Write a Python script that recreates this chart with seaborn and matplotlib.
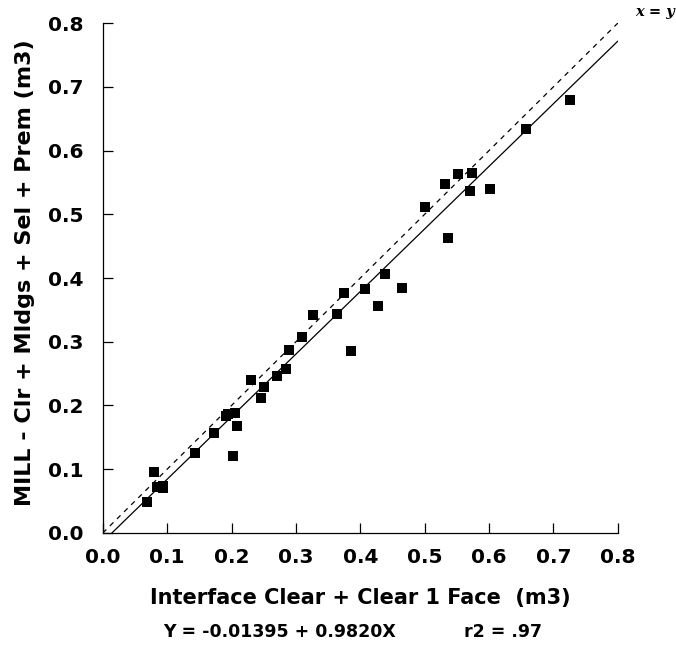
import numpy as np
import pandas as pd
import matplotlib
matplotlib.use("Agg")
import matplotlib.pyplot as plt
import seaborn as sns

# values
interface_clear = [0.068, 0.080, 0.084, 0.094, 0.093, 0.144, 0.172, 0.195, 0.192, 0.206,
                   0.202, 0.208, 0.231, 0.250, 0.246, 0.270, 0.285, 0.290, 0.310, 0.326,
                   0.364, 0.374, 0.385, 0.408, 0.428, 0.438, 0.464, 0.500, 0.536, 0.532,
                   0.551, 0.573, 0.570, 0.601, 0.658, 0.726]
mill_volume = [0.049, 0.095, 0.072, 0.070, 0.074, 0.125, 0.157, 0.187, 0.184, 0.188,
               0.121, 0.168, 0.240, 0.229, 0.211, 0.247, 0.257, 0.287, 0.308, 0.342,
               0.344, 0.377, 0.286, 0.382, 0.356, 0.406, 0.385, 0.512, 0.463, 0.547,
               0.563, 0.565, 0.536, 0.539, 0.633, 0.679]
intercept = -0.01395
slope = 0.9820
r2_text = ".97"
ticks = [0.0, 0.1, 0.2, 0.3, 0.4, 0.5, 0.6, 0.7, 0.8]

df = pd.DataFrame({"x": interface_clear, "y": mill_volume})

sns.set_style("ticks")
plt.rcParams["font.family"] = ["DejaVu Sans"]
plt.rcParams["font.weight"] = "bold"
plt.rcParams["text.color"] = "black"
plt.rcParams["axes.labelcolor"] = "black"
plt.rcParams["xtick.color"] = "black"
plt.rcParams["ytick.color"] = "black"

fig = plt.figure(figsize=(6.76, 6.58), dpi=100)
ax = fig.add_axes([0.152, 0.190, 0.762, 0.775])

sns.scatterplot(data=df, x="x", y="y", marker="s", s=45, color="black",
                linewidth=0, ax=ax, zorder=3)

# x = y reference line (dashed)
xx = np.array([0.0, 0.8])
ax.plot(xx, xx, color="black", lw=0.9, ls=(0, (4, 4)))

# fitted regression line (solid)
x_start = -intercept / slope
xr = np.array([x_start, 0.8])
ax.plot(xr, intercept + slope * xr, color="black", lw=0.9)

ax.text(0.858, 0.817, "x = y", fontsize=10.5, fontstyle="italic", fontweight="bold",
        family="DejaVu Serif", ha="center", va="center", clip_on=False)

ax.set_xlim(0, 0.8)
ax.set_ylim(0, 0.8)
ax.set_xticks(ticks)
ax.set_yticks(ticks)
ax.set_xticklabels([f"{t:.1f}" for t in ticks])
ax.set_yticklabels([f"{t:.1f}" for t in ticks])
ax.tick_params(direction="in", length=7, width=0.9, labelsize=14.5, color="black",
               labelcolor="black")
ax.tick_params(axis="y", pad=14)
ax.tick_params(axis="x", pad=11)
for lab in ax.get_xticklabels() + ax.get_yticklabels():
    lab.set_fontweight("bold")
sns.despine(ax=ax)
for sp in ["left", "bottom"]:
    ax.spines[sp].set_linewidth(0.9)
    ax.spines[sp].set_color("black")

ax.set_xlabel("Interface Clear + Clear 1 Face  (m3)", fontsize=15, fontweight="bold",
              color="black")
ax.set_ylabel("MILL - Clr + Mldgs + Sel + Prem (m3)", fontsize=16, fontweight="bold",
              color="black")
ax.xaxis.set_label_coords(0.5, -0.108)
ax.yaxis.set_label_coords(-0.132, 0.51)

fig.text(0.414, 0.040, f"Y = {intercept} + {slope:.4f}X", fontsize=12.5, fontweight="bold",
         ha="center", va="center", color="black")
fig.text(0.744, 0.040, f"r2 = {r2_text}", fontsize=12.5, fontweight="bold",
         ha="center", va="center", color="black")

fig.savefig("out.png", dpi=100)
